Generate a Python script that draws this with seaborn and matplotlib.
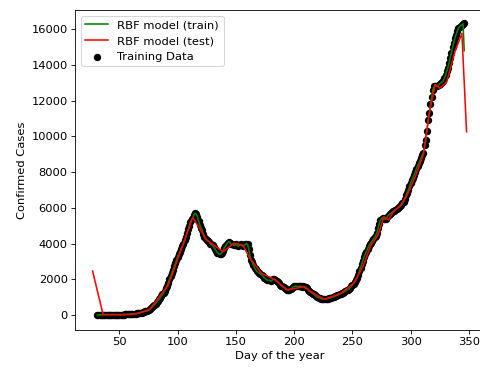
import matplotlib
matplotlib.use("Agg")
import matplotlib.pyplot as plt
import seaborn as sns
import pandas as pd

# Training data: daily confirmed cases, days 31..346
train_days = list(range(31, 347))
train_cases = [
    0, 5, 8, 10, 12, 15, 18, 20, 20, 18,                      # 31-40
    15, 15, 18, 20, 22, 20, 18, 20, 22, 25,                   # 41-50
    20, 18, 20, 25, 30, 30, 35, 40, 45, 50,                   # 51-60
    55, 60, 70, 80, 90, 100, 110, 125, 140, 160,              # 61-70
    180, 200, 220, 250, 280, 320, 380, 440, 500, 570,         # 71-80
    640, 720, 800, 880, 960, 1050, 1150, 1250, 1370, 1500,    # 81-90
    1650, 1820, 2000, 2180, 2360, 2540, 2720, 2900, 3080, 3250,  # 91-100
    3400, 3550, 3700, 3850, 4000, 4180, 4380, 4600, 4800, 5000,  # 101-110
    5200, 5350, 5450, 5600, 5700, 5650, 5500, 5250, 5050, 4900,  # 111-120
    4750, 4550, 4350, 4250, 4200, 4150, 4100, 4000, 3950, 3900,  # 121-130
    3800, 3700, 3600, 3500, 3450, 3400, 3420, 3500, 3600, 3750,  # 131-140
    3850, 3950, 4050, 4100, 4050, 3950, 3950, 3900, 3900, 3950,  # 141-150
    3900, 3850, 3900, 3950, 3900, 3850, 3900, 3950, 4000, 3950,  # 151-160
    3700, 3350, 3100, 2950, 2800, 2650, 2550, 2450, 2400, 2350,  # 161-170
    2300, 2250, 2200, 2100, 2050, 2000, 1950, 1950, 1950, 1900,  # 171-180
    1950, 2000, 2000, 1950, 1900, 1850, 1800, 1700, 1650, 1600,  # 181-190
    1550, 1500, 1450, 1420, 1400, 1420, 1450, 1500, 1550, 1600,  # 191-200
    1620, 1620, 1600, 1600, 1620, 1600, 1580, 1600, 1580, 1550,  # 201-210
    1500, 1420, 1350, 1300, 1250, 1200, 1150, 1100, 1050, 1000,  # 211-220
    980, 950, 920, 900, 900, 880, 880, 900, 920, 930,            # 221-230
    950, 980, 1000, 1020, 1050, 1080, 1100, 1130, 1160, 1200,    # 231-240
    1230, 1260, 1300, 1340, 1380, 1420, 1480, 1540, 1600, 1680,  # 241-250
    1760, 1850, 1950, 2080, 2250, 2450, 2650, 2850, 3050, 3250,  # 251-260
    3400, 3550, 3700, 3850, 3950, 4050, 4150, 4250, 4350, 4450,  # 261-270
    4600, 4850, 5100, 5300, 5400, 5450, 5400, 5350, 5400, 5500,  # 271-280
    5600, 5650, 5700, 5750, 5800, 5850, 5900, 5950, 6000, 6050,  # 281-290
    6100, 6150, 6250, 6350, 6500, 6700, 6850, 7000, 7200, 7400,  # 291-300
    7550, 7700, 7850, 8000, 8200, 8350, 8500, 8650, 8800, 8950,  # 301-310
    9100, 9500, 9800, 10300, 10900, 11300, 11800, 12200, 12600, 12800,  # 311-320
    12850, 12800, 12850, 12900, 12950, 13000, 13050, 13100, 13250, 13450,  # 321-330
    13650, 13850, 14100, 14400, 14700, 15000, 15250, 15500, 15700, 15900,  # 331-340
    16050, 16150, 16200, 16250, 16300, 16350,                              # 341-346
]

# RBF model fit on the training days (matches the data, last value drops)
train_pred = train_cases[:-1] + [14800]

# RBF model predictions on the test days
test_days = [27, 36, 50, 63, 76, 92, 113, 125, 139, 148, 156, 162, 172, 184, 194, 208, 219, 226,
             240, 251, 259, 266, 272, 277, 281, 285, 291, 297, 304, 311, 316, 321, 325, 331, 338,
             344, 348]
test_pred = [2460, 30, 20, 40, 320, 1680, 5470, 4200, 3545, 4015, 3920, 3175, 2335, 1960, 1400,
             1585, 1120, 880, 1215, 1775, 2705, 3920, 4480, 5500, 5320, 5780, 6105, 6720, 7745,
             9000, 11300, 12920, 12695, 13065, 14745, 15775, 10263]

train_df = pd.DataFrame({"day": train_days, "cases": train_cases, "pred": train_pred})
test_df = pd.DataFrame({"day": test_days, "pred": test_pred})

plt.rcParams["font.size"] = 11

fig = plt.figure(figsize=(6.4, 368 / 75), dpi=75)
# The reference image is cropped on the right: the axes extends past the canvas
ax = fig.add_axes([75 / 480, 38 / 368, 430 / 480, 320 / 368])

sns.scatterplot(data=train_df, x="day", y="cases", color="black", s=50, linewidth=0,
                label="Training Data", ax=ax, zorder=2)
sns.lineplot(data=train_df, x="day", y="pred", color="green", sort=False, estimator=None,
             label="RBF model (train)", ax=ax, zorder=3)
sns.lineplot(data=test_df, x="day", y="pred", color="red", sort=False, estimator=None,
             label="RBF model (test)", ax=ax, zorder=4)

ax.set_xlim(11.9, 11.9 + 430 / 1.165)
ax.set_ylim(-840, 17080)
ax.set_xticks([50, 100, 150, 200, 250, 300, 350])

ax.set_xlabel("Day of the year")
ax.set_ylabel("Confirmed Cases")
ax.xaxis.label.set_x((280 - 75) / 430)

handles, labels = ax.get_legend_handles_labels()
order = [labels.index("RBF model (train)"), labels.index("RBF model (test)"),
         labels.index("Training Data")]
ax.legend([handles[i] for i in order], [labels[i] for i in order], loc="upper left")

fig.savefig("out.png", dpi=75)
